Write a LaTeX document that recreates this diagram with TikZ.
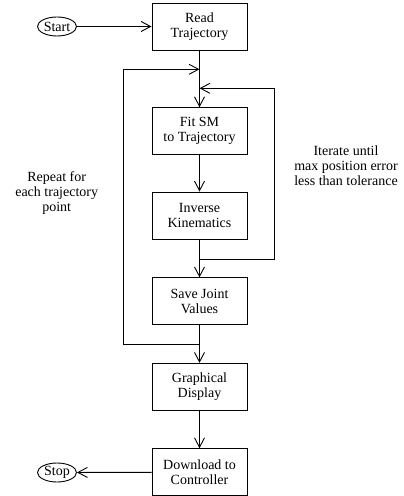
\documentclass[tikz,border=0pt]{standalone}
\usepackage{fontspec}
\setmainfont{Liberation Serif}
\usetikzlibrary{arrows.meta,shapes.geometric}
\begin{document}
\begin{tikzpicture}[x=1bp,y=-1bp,
  every node/.style={font=\fontsize{14bp}{15bp}\selectfont, align=center, inner sep=0pt},
  box/.style={draw, line width=0.9bp, minimum width=95bp, minimum height=47bp},
  term/.style={draw, ellipse, line width=0.9bp, minimum width=39bp, minimum height=19bp},
  conn/.style={line width=0.9bp, -{Straight Barb[length=9.5bp,width=10bp,line width=0.9bp]}},
  plain/.style={line width=0.9bp}]
\useasboundingbox (0,0) rectangle (403,496);
\node[box] (read) at (199.5,26.5) {Read\\Trajectory};
\node[box] (fit) at (199.5,131.2) {Fit SM\\to Trajectory};
\node[box] (inv) at (199.5,215.5) {Inverse\\Kinematics};
\node[box] (save) at (199.5,301.3) {Save Joint\\Values};
\node[box] (gra) at (199.5,386.8) {Graphical\\Display};
\node[box] (down) at (199.5,472.2) {Download to\\Controller};
\node[term] (start) at (57,26.5) {Start};
\node[term] (stop) at (57,472.5) {Stop};
\node (rep) at (56.7,193.3) {Repeat for\\each trajectory\\point};
\node (itr) at (346,165.8) {Iterate until\\max position error\\less than tolerance};
\coordinate (j1) at (199.5,69.3);
\coordinate (j2) at (199.5,88.3);
\coordinate (j3) at (199.5,259);
\coordinate (j4) at (199.5,344);
\draw[conn] (start) -- (read);
\draw[conn] (read) -- (fit);
\draw[conn] (fit) -- (inv);
\draw[conn] (inv) -- (save);
\draw[conn] (save) -- (gra);
\draw[conn] (gra) -- (down);
\draw[conn] (down) -- (stop);
\draw[conn] (j4) -| (123.3,69.3) -- (j1);
\draw[conn] (j3) -| (274.7,88.3) -- (j2);
\end{tikzpicture}
\end{document}
